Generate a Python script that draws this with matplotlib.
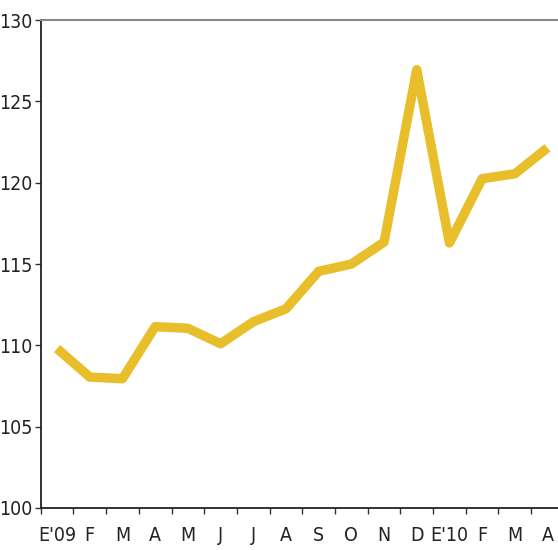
import matplotlib.pyplot as plt
from matplotlib.ticker import FixedLocator

# meses y valores del indice
months = ["E'09", "F", "M", "A", "M", "J", "J", "A", "S", "O", "N", "D",
          "E'10", "F", "M", "A"]
values = [109.8, 108.05, 107.95, 111.15, 111.05, 110.1, 111.45, 112.25,
          114.55, 115.0, 116.35, 126.95, 116.3, 120.25, 120.55, 122.15]
yticks = [100, 105, 110, 115, 120, 125, 130]

plt.rcParams['font.family'] = ['DejaVu Sans']
plt.rcParams['font.stretch'] = 'condensed'

fig = plt.figure(figsize=(5.58, 5.5), dpi=100)
ax = fig.add_axes([0.073, 0.0764, 0.927, 0.887])

x = list(range(len(months)))
ax.plot(x, values, color='#E8BF2B', lw=6.8, solid_capstyle='butt',
        solid_joinstyle='round')

ax.set_xlim(-0.5, 15.32)
ax.set_ylim(100, 130)

ax.set_xticks(x)
ax.set_xticklabels(months, fontsize=14, color='#222222')
ax.xaxis.set_minor_locator(FixedLocator([i + 0.5 for i in range(-1, 16)]))
ax.tick_params(axis='x', which='major', length=0, pad=13)
ax.tick_params(axis='x', which='minor', length=4, width=1, color='#333333')

ax.set_yticks(yticks)
ax.set_yticklabels([str(v) for v in yticks], fontsize=14, color='#222222')
ax.tick_params(axis='y', length=4, width=1, pad=2, color='#333333')

ax.spines['right'].set_visible(False)
ax.spines['top'].set_color('#888888')
ax.spines['top'].set_linewidth(1.5)
ax.spines['left'].set_color('#222222')
ax.spines['bottom'].set_color('#222222')
ax.spines['left'].set_linewidth(1.3)
ax.spines['bottom'].set_linewidth(1.3)

fig.savefig("out.png", dpi=100)
